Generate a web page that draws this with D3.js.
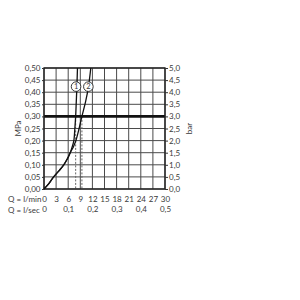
<!DOCTYPE html>
<html><head><meta charset="utf-8">
<script src="https://cdn.jsdelivr.net/npm/d3@7"></script>
<style>body{margin:0;background:#fff}svg{display:block}text{font-family:Lato,"DejaVu Sans",sans-serif;fill:#3a3a3a}</style>
</head><body><svg id="c" width="300" height="300"></svg>
<script>
const qTicks = [0,3,6,9,12,15,18,21,24,27,30];
const secTicks = [0,0.1,0.2,0.3,0.4,0.5];
const mpaTicks = [0,0.05,0.1,0.15,0.2,0.25,0.3,0.35,0.4,0.45,0.5];
const barTicks = [0,0.5,1,1.5,2,2.5,3,3.5,4,4.5,5];
const curve1Q = [0,1.2,2.4,3.7,4.9,5.8,6.5,7.0,7.4,7.65,7.85,8.0,8.15,8.3];
const curve1P = [0,0.022,0.05,0.075,0.1,0.125,0.15,0.175,0.2,0.25,0.3,0.36,0.42,0.5];
const curve2Q = [0,1.2,2.4,3.7,4.9,5.8,6.5,7.3,7.9,8.7,9.4,10.3,11.0,11.6];
const curve2P = [0,0.022,0.05,0.075,0.1,0.125,0.15,0.175,0.2,0.25,0.3,0.36,0.42,0.5];
const labelNames = ["1","2"];
const labelQ = [7.95,11.0];
const labelP = [0.423,0.423];
const refP = 0.3;
const refQ = [7.85,9.4];

const svg = d3.select("#c");
const x = d3.scaleLinear().domain([0,30]).range([44,165]);
const y = d3.scaleLinear().domain([0,0.5]).range([189,68]);
const yb = d3.scaleLinear().domain([0,5]).range([189,68]);
const fmt = (d,n)=>d.toFixed(n).replace(".",",");

const g = svg.append("g");
g.selectAll(".v").data(qTicks).join("line")
  .attr("x1",d=>x(d)).attr("x2",d=>x(d)).attr("y1",y(0)).attr("y2",y(0.5))
  .attr("stroke","#4a4a4a").attr("stroke-width",1);
g.selectAll(".h").data(mpaTicks).join("line")
  .attr("y1",d=>y(d)).attr("y2",d=>y(d)).attr("x1",x(0)).attr("x2",x(30))
  .attr("stroke","#4a4a4a").attr("stroke-width",1);

g.selectAll(".d").data(refQ).join("line")
  .attr("x1",d=>x(d)).attr("x2",d=>x(d)).attr("y1",y(refP)).attr("y2",y(0))
  .attr("stroke","#666").attr("stroke-width",1).attr("stroke-dasharray","2,1.5");

g.append("line").attr("x1",x(0)).attr("x2",x(30)).attr("y1",y(refP)).attr("y2",y(refP))
  .attr("stroke","#111").attr("stroke-width",2.6);

g.append("rect").attr("x",x(0)).attr("y",y(0.5)).attr("width",x(30)-x(0)).attr("height",y(0)-y(0.5))
  .attr("fill","none").attr("stroke","#222").attr("stroke-width",1.4);

const left = d3.axisLeft(y).tickValues(mpaTicks).tickSize(2).tickPadding(1.5).tickFormat(d=>fmt(d,2));
const right = d3.axisRight(yb).tickValues(barTicks).tickSize(3).tickPadding(1).tickFormat(d=>fmt(d,1));
const bottom = d3.axisBottom(x).tickValues(qTicks).tickSize(0).tickPadding(7).tickFormat(d=>d);
const xs = d3.scaleLinear().domain([0,0.5]).range([44,165]);
const bottom2 = d3.axisBottom(xs).tickValues(secTicks).tickSize(0).tickPadding(0).tickFormat(d=>d===0?"0":fmt(d,1));
function style(sel){
  sel.select(".domain").remove();
  sel.selectAll(".tick line").attr("stroke","#333");
  sel.selectAll("text").attr("font-size","8px").attr("fill","#3a3a3a").attr("font-family","Lato, sans-serif");
}
svg.append("g").attr("transform",`translate(${x(0)},0)`).call(left).call(style);
svg.append("g").attr("transform",`translate(${x(30)},0)`).call(right).call(style);
svg.append("g").attr("transform",`translate(0,${y(0)})`).call(bottom).call(style);
svg.append("g").attr("transform",`translate(0,${y(0)+17})`).call(bottom2).call(style);

svg.append("text").attr("x",8).attr("y",202).attr("font-size","8px").text("Q = l/min");
svg.append("text").attr("x",8).attr("y",212.5).attr("font-size","8px").text("Q = l/sec");
svg.append("text").attr("transform",`translate(21,128.5) rotate(-90)`).attr("text-anchor","middle").attr("font-size","8px").text("MPa");
svg.append("text").attr("transform",`translate(192,128.5) rotate(-90)`).attr("text-anchor","middle").attr("font-size","8px").text("bar");

const line = d3.line().x(d=>x(d[0])).y(d=>y(d[1])).curve(d3.curveCatmullRom);
[[curve1Q,curve1P],[curve2Q,curve2P]].forEach(([q,p])=>{
  svg.append("path").datum(q.map((v,i)=>[v,p[i]])).attr("d",line)
    .attr("fill","none").attr("stroke","#111").attr("stroke-width",1.3);
});

labelNames.forEach((n,i)=>{
  svg.append("circle").attr("cx",x(labelQ[i])).attr("cy",y(labelP[i])).attr("r",4.8)
    .attr("fill","#fff").attr("stroke","#222").attr("stroke-width",0.9);
  svg.append("text").attr("x",x(labelQ[i])).attr("y",y(labelP[i])+2.6).attr("text-anchor","middle")
    .attr("font-size","7.5px").text(n);
});
</script></body></html>
